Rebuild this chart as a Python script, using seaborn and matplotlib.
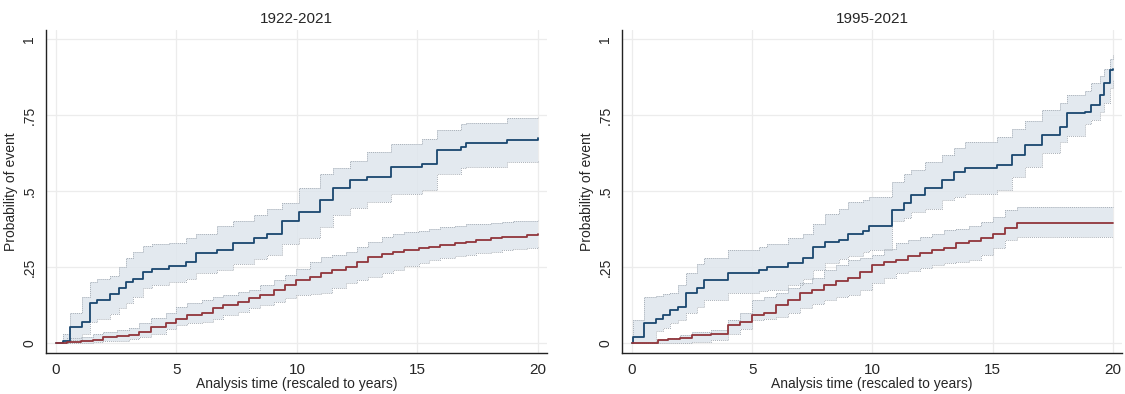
import numpy as np
import pandas as pd
import matplotlib
matplotlib.use("Agg")
import matplotlib.pyplot as plt
import seaborn as sns

# ---------------- data ----------------
titles = ["1922-2021", "1995-2021"]
x_ticks = [0, 5, 10, 15, 20]
y_ticks = [0, 0.25, 0.5, 0.75, 1]
y_tick_labels = ["0", ".25", ".5", ".75", "1"]

# Panel 1 (1922-2021), group A (blue)
p1a_t = [0, 0.3, 0.58, 1.08, 1.41, 1.7, 2.24, 2.6, 2.9, 3.2, 3.6, 4.0, 4.7, 5.4, 5.8, 6.7, 7.35, 8.2, 8.75,
         9.4, 10.1, 10.95, 11.5, 12.2, 12.9, 13.9, 15.2, 15.8, 16.8, 17.0, 18.7, 20]
p1a_est = [0, 0.005, 0.053, 0.07, 0.13, 0.14, 0.16, 0.18, 0.20, 0.21, 0.235, 0.245, 0.253, 0.265, 0.295, 0.305,
           0.33, 0.345, 0.36, 0.40, 0.43, 0.47, 0.51, 0.535, 0.547, 0.58, 0.59, 0.635, 0.645, 0.657, 0.668, 0.673]
p1a_hi = [0, 0.03, 0.10, 0.15, 0.20, 0.21, 0.22, 0.25, 0.28, 0.30, 0.32, 0.325, 0.33, 0.345, 0.36, 0.385, 0.40,
          0.42, 0.44, 0.46, 0.51, 0.555, 0.575, 0.60, 0.63, 0.655, 0.67, 0.70, 0.72, 0.725, 0.74, 0.745]
p1a_lo = [0, 0, 0.01, 0.03, 0.07, 0.08, 0.095, 0.115, 0.13, 0.15, 0.18, 0.19, 0.2, 0.21, 0.23, 0.24, 0.26, 0.275,
          0.29, 0.325, 0.345, 0.38, 0.42, 0.445, 0.465, 0.49, 0.505, 0.555, 0.575, 0.58, 0.595, 0.60]

# Panel 1 (1922-2021), group B (red)
p1b_t = [0, 0.45, 1.05, 1.55, 1.95, 2.55, 3.05, 3.45, 3.95, 4.55, 5.0, 5.45, 6.05, 6.5, 6.95, 7.55, 8.0, 8.45,
         9.05, 9.5, 9.95, 10.55, 11.0, 11.45, 12.05, 12.5, 12.95, 13.55, 14.0, 14.45, 15.05, 15.5, 15.95, 16.55,
         17.0, 17.45, 18.05, 18.5, 18.95, 19.55, 20]
p1b_est = [0, 0.003, 0.005, 0.01, 0.02, 0.024, 0.026, 0.035, 0.053, 0.065, 0.08, 0.092, 0.10, 0.115, 0.125,
           0.135, 0.147, 0.158, 0.175, 0.19, 0.207, 0.218, 0.23, 0.24, 0.25, 0.265, 0.283, 0.292, 0.30, 0.306,
           0.312, 0.316, 0.322, 0.328, 0.333, 0.34, 0.345, 0.348, 0.35, 0.355, 0.36]
p1b_hi = [0, 0.015, 0.02, 0.028, 0.036, 0.043, 0.05, 0.065, 0.082, 0.10, 0.12, 0.13, 0.14, 0.15, 0.158, 0.167,
          0.175, 0.19, 0.207, 0.225, 0.245, 0.265, 0.283, 0.29, 0.30, 0.315, 0.333, 0.348, 0.36, 0.365, 0.37,
          0.375, 0.38, 0.385, 0.39, 0.393, 0.395, 0.398, 0.40, 0.403, 0.405]
p1b_lo = [0, 0, 0, 0.002, 0.005, 0.008, 0.012, 0.02, 0.03, 0.045, 0.06, 0.065, 0.07, 0.08, 0.092, 0.103, 0.115,
          0.125, 0.135, 0.147, 0.158, 0.162, 0.165, 0.18, 0.197, 0.207, 0.217, 0.23, 0.24, 0.252, 0.263, 0.272,
          0.28, 0.285, 0.29, 0.295, 0.30, 0.305, 0.31, 0.313, 0.316]

# Panel 2 (1995-2021), group A (blue)
p2a_t = [0, 0.05, 0.5, 1.0, 1.3, 1.6, 1.9, 2.25, 2.7, 3.0, 4.0, 5.3, 5.6, 6.5, 7.1, 7.55, 8.05, 8.6, 9.0, 9.6,
         9.85, 10.8, 11.3, 11.6, 12.2, 12.9, 13.4, 13.85, 15.2, 15.8, 16.35, 17.05, 17.8, 18.1, 18.85, 19.1,
         19.45, 19.65, 19.9, 20]
p2a_est = [0, 0.02, 0.066, 0.08, 0.092, 0.108, 0.12, 0.163, 0.18, 0.207, 0.23, 0.24, 0.25, 0.263, 0.28, 0.316,
           0.333, 0.34, 0.36, 0.37, 0.385, 0.437, 0.46, 0.487, 0.51, 0.536, 0.562, 0.576, 0.585, 0.618, 0.65,
           0.684, 0.71, 0.757, 0.76, 0.783, 0.815, 0.855, 0.898, 0.9]
p2a_hi = [0, 0.075, 0.15, 0.155, 0.16, 0.165, 0.19, 0.23, 0.26, 0.28, 0.305, 0.315, 0.325, 0.345, 0.36, 0.39,
          0.425, 0.44, 0.465, 0.47, 0.48, 0.53, 0.555, 0.57, 0.595, 0.62, 0.64, 0.66, 0.678, 0.705, 0.73, 0.766,
          0.79, 0.815, 0.83, 0.855, 0.88, 0.9, 0.935, 0.947]
p2a_lo = [0, 0, 0, 0.04, 0.05, 0.065, 0.075, 0.098, 0.12, 0.14, 0.163, 0.17, 0.175, 0.19, 0.21, 0.24, 0.263,
          0.275, 0.285, 0.3, 0.305, 0.40, 0.41, 0.43, 0.44, 0.47, 0.48, 0.49, 0.503, 0.545, 0.58, 0.625, 0.66,
          0.68, 0.72, 0.735, 0.76, 0.79, 0.84, 0.865]

# Panel 2 (1995-2021), group B (red)
p2b_t = [0, 1.0, 1.1, 1.5, 2.0, 2.5, 3.3, 4.0, 4.5, 5.0, 5.5, 6.0, 6.5, 7.0, 7.5, 8.0, 8.5, 9.0, 9.5, 10.0,
         10.5, 11.0, 11.5, 12.0, 12.5, 13.0, 13.5, 14.0, 14.5, 15.0, 15.5, 16.0, 20]
p2b_est = [0, 0, 0.01, 0.012, 0.015, 0.026, 0.03, 0.06, 0.07, 0.092, 0.098, 0.125, 0.14, 0.163, 0.174, 0.19,
           0.205, 0.215, 0.235, 0.257, 0.265, 0.273, 0.285, 0.296, 0.305, 0.312, 0.329, 0.335, 0.345, 0.36,
           0.378, 0.394, 0.394]
p2b_hi = [0, 0, 0.01, 0.015, 0.026, 0.035, 0.043, 0.075, 0.1, 0.14, 0.15, 0.163, 0.18, 0.197, 0.215, 0.24,
          0.255, 0.273, 0.28, 0.29, 0.31, 0.33, 0.34, 0.35, 0.36, 0.372, 0.375, 0.385, 0.398, 0.414, 0.437,
          0.447, 0.447]
p2b_lo = [0, 0, 0, 0, 0, 0.003, 0.01, 0.03, 0.045, 0.075, 0.08, 0.085, 0.1, 0.115, 0.128, 0.14, 0.15, 0.158,
          0.175, 0.197, 0.215, 0.23, 0.238, 0.246, 0.255, 0.263, 0.268, 0.273, 0.29, 0.312, 0.34, 0.35, 0.35]

panels = [
    [("A", p1a_t, p1a_est, p1a_lo, p1a_hi), ("B", p1b_t, p1b_est, p1b_lo, p1b_hi)],
    [("A", p2a_t, p2a_est, p2a_lo, p2a_hi), ("B", p2b_t, p2b_est, p2b_lo, p2b_hi)],
]
palette = {"A": "#1a476f", "B": "#90353b"}

# ---------------- figure ----------------
sns.set_style("white")
plt.rcParams["font.family"] = ["Liberation Sans", "DejaVu Sans"]

fig = plt.figure(figsize=(11.25, 3.94), dpi=100)
axes = [fig.add_axes([0.041, 0.104, 0.445, 0.82]),
        fig.add_axes([0.553, 0.104, 0.444, 0.82])]

for ax, title, series in zip(axes, titles, panels):
    ax.set_xlim(-0.41, 20.37)
    ax.set_ylim(-0.033, 1.03)
    for xt in x_ticks:
        ax.axvline(xt, color="#ececec", lw=0.9, zorder=0)
    for yt in y_ticks:
        ax.axhline(yt, color="#ececec", lw=0.9, zorder=0)

    frames = []
    for grp, t, est, lo, hi in series:
        ax.fill_between(t, lo, hi, step="post", color="#dfe6ed", alpha=0.85, lw=0, zorder=1)
        ax.step(t, lo, where="post", color="#a9b0b8", lw=0.7, ls=(0, (1, 1)), zorder=2)
        ax.step(t, hi, where="post", color="#a9b0b8", lw=0.7, ls=(0, (1, 1)), zorder=2)
        frames.append(pd.DataFrame({"time": t, "prob": est, "group": grp}))
    df = pd.concat(frames, ignore_index=True)
    sns.lineplot(data=df, x="time", y="prob", hue="group", palette=palette, estimator=None,
                 drawstyle="steps-post", lw=1.3, legend=False, ax=ax, zorder=3)

    ax.set_xticks(x_ticks)
    ax.set_yticks(y_ticks)
    ax.set_yticklabels(y_tick_labels, rotation=90, va="center")
    ax.tick_params(axis="both", direction="out", length=4, width=0.8, color="#333333",
                   labelsize=10, pad=3)
    ax.tick_params(axis="x", labelsize=11)
    ax.set_xlabel("Analysis time (rescaled to years)", fontsize=10, labelpad=0)
    ax.set_ylabel("Probability of event", fontsize=10, labelpad=3)
    ax.set_title(title, fontsize=11, pad=5)
    for s in ["top", "right"]:
        ax.spines[s].set_visible(False)
    for s in ["left", "bottom"]:
        ax.spines[s].set_color("#222222")
        ax.spines[s].set_linewidth(1.0)

fig.savefig("out.png", dpi=100)
